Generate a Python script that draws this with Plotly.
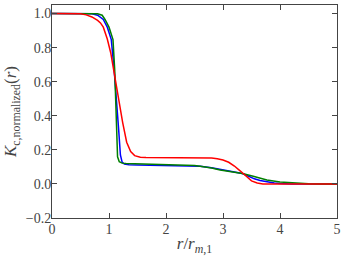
import plotly.graph_objects as go

# curve samples (r / r_m,1 vs normalized K_c)
red_x = [0, 0.4, 0.5, 0.6, 0.7, 0.8, 0.85, 0.9, 0.97, 1.03, 1.08, 1.15, 1.2, 1.24, 1.31, 1.38, 1.45,
         1.55, 1.65, 2.0, 2.5, 2.8, 2.9, 3.0, 3.1, 3.2, 3.3, 3.4, 3.5, 3.6, 3.7, 4.0, 5.0]
red_y = [1.0, 1.0, 0.998, 0.992, 0.98, 0.96, 0.945, 0.92, 0.85, 0.77, 0.67, 0.55, 0.45, 0.36, 0.245,
         0.19, 0.166, 0.157, 0.155, 0.154, 0.154, 0.152, 0.148, 0.14, 0.127, 0.105, 0.077, 0.045,
         0.018, 0.005, 0.0, 0.0, 0.0]

blue_x = [0, 0.6, 0.7, 0.8, 0.9, 0.97, 1.04, 1.09, 1.12, 1.15, 1.17, 1.2, 1.23, 1.27, 1.35, 1.5,
          2.0, 2.5, 2.6, 2.8, 3.0, 3.2, 3.34, 3.45, 3.55, 3.65, 3.77, 3.9, 4.0, 4.2, 5.0]
blue_y = [1.0, 1.0, 0.998, 0.99, 0.965, 0.92, 0.847, 0.67, 0.55, 0.42, 0.316, 0.17, 0.128, 0.116,
          0.112, 0.111, 0.108, 0.105, 0.104, 0.095, 0.084, 0.071, 0.061, 0.045, 0.03, 0.02, 0.012,
          0.005, 0.002, 0.0, 0.0]

green_x = [0, 0.75, 0.8, 0.88, 0.93, 1.0, 1.07, 1.1, 1.11, 1.126, 1.15, 1.18, 1.23, 1.3, 1.5, 2.0,
           2.5, 2.6, 2.8, 2.95, 3.1, 3.34, 3.53, 3.77, 4.0, 4.17, 4.35, 4.5, 4.7, 5.0]
green_y = [1.0, 1.0, 0.999, 0.99, 0.965, 0.92, 0.847, 0.67, 0.552, 0.316, 0.159, 0.13, 0.122, 0.12,
           0.118, 0.115, 0.108, 0.104, 0.094, 0.082, 0.074, 0.061, 0.045, 0.023, 0.012, 0.007,
           0.003, 0.001, 0.0, 0.0]

x_ticks = [0, 1, 2, 3, 4, 5]
y_ticks = [-0.2, 0.0, 0.2, 0.4, 0.6, 0.8, 1.0]
y_labels = ["\u22120.2", "0.0", "0.2", "0.4", "0.6", "0.8", "1.0"]

serif = "Liberation Serif, DejaVu Serif, serif"

fig = go.Figure()
for xs, ys, col in [(blue_x, blue_y, "#0000ff"), (green_x, green_y, "#007f00"), (red_x, red_y, "#ff0000")]:
    fig.add_trace(go.Scatter(x=xs, y=ys, mode="lines", line={"color": col, "width": 1.5},
                             showlegend=False))

axis_style = dict(
    showline=True, linecolor="#444", linewidth=1, mirror="ticks",
    ticks="inside", ticklen=5, tickcolor="#444", tickwidth=1,
    showgrid=False, zeroline=False,
    tickfont={"family": serif, "size": 14, "color": "#444"},
)
fig.update_xaxes(range=[0, 5], tickvals=x_ticks, ticktext=[str(t) for t in x_ticks],
                 ticklabelstandoff=-2,
                 title={"text": "<i>r</i>/<i>r</i><sub><i>m</i>,1</sub>", "standoff": 2},
                 **axis_style)
fig.update_yaxes(range=[-0.2, 1.05], tickvals=y_ticks, ticktext=y_labels,
                 ticklabelstandoff=-3,
                 title={"text": "<i>K</i><sub>c,normalized</sub>(<i>r</i>)", "standoff": 4},
                 **axis_style)

fig.update_layout(
    width=346, height=256,
    margin={"l": 52, "r": 9, "t": 5, "b": 38},
    paper_bgcolor="white", plot_bgcolor="white",
    font={"family": serif, "size": 14, "color": "#444"},
)

# drop the default page margin so the figure sits at the window corner
fig.write_html("out.html", config={"displayModeBar": False},
               post_script="document.body.style.margin='0';")
